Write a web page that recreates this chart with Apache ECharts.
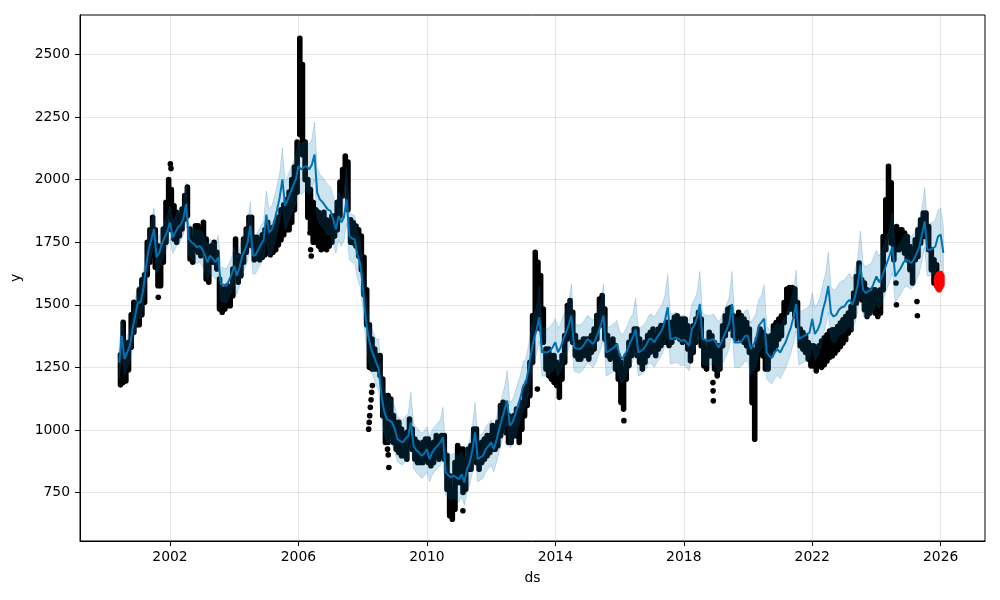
<!DOCTYPE html>
<html><head><meta charset="utf-8">
<script src="https://cdn.jsdelivr.net/npm/echarts@6/dist/echarts.min.js"></script>
<style>html,body{margin:0;padding:0;background:#fff}#c{width:1000px;height:600px}</style>
</head><body><div id="c"></div>
<script>
// ---- tick labels ----
const xTicks = [2002, 2006, 2010, 2014, 2018, 2022, 2026];
const yTicks = [750, 1000, 1250, 1500, 1750, 2000, 2250, 2500];

// ---- forecast (monthly, first value = 2000-06) ----
const fcstStart = '2000-06';
const yhat = [
1269,1376,1283,1310,1336,1403,1456,
1510,1509,1560,1650,1720,1760,1803,1690,1709,1743,1770,1795,
1829,1769,1790,1810,1820,1843,1903,1763,1750,1743,1729,1736,
1723,1700,1669,1696,1683,1670,1690,1583,1580,1576,1596,1620,
1656,1616,1650,1696,1720,1749,1816,1696,1700,1722,1740,1760,
1860,1789,1800,1835,1880,1930,2001,1895,1920,1948,1975,2001,
2054,2041,2050,2054,2041,2060,2101,1948,1921,1910,1895,1880,
1875,1840,1802,1855,1829,1850,1921,1775,1765,1762,1700,1669,
1577,1460,1380,1330,1300,1270,1245,1140,1075,1043,1037,1030,
1003,963,955,950,965,975,1030,937,920,910,897,905,
923,883,910,925,937,950,970,830,820,810,817,810,
803,823,790,843,870,920,990,883,890,897,923,935,
950,923,960,1003,1043,1080,1117,1017,1030,1060,1097,1130,
1177,1190,1243,1310,1363,1400,1450,1310,1310,1310,1317,1330,
1350,1310,1330,1363,1390,1420,1457,1330,1325,1323,1330,1345,
1363,1355,1343,1360,1390,1420,1457,1310,1315,1323,1330,1343,
1300,1283,1300,1323,1350,1370,1403,1310,1315,1323,1340,1363,
1363,1350,1370,1385,1403,1440,1490,1363,1365,1370,1365,1355,
1360,1350,1336,1403,1420,1450,1503,1363,1360,1356,1358,1363,
1350,1329,1350,1376,1400,1429,1503,1349,1349,1349,1360,1376,
1376,1323,1340,1363,1416,1430,1445,1309,1295,1289,1310,1323,
1309,1330,1349,1380,1409,1450,1503,1363,1370,1376,1383,1389,
1443,1383,1400,1427,1480,1520,1575,1467,1453,1460,1480,1490,
1493,1510,1520,1500,1533,1580,1660,1560,1547,1555,1560,1587,
1613,1590,1610,1640,1670,1700,1733,1613,1630,1645,1667,1680,
1675,1667,1680,1705,1730,1780,1833,1720,1720,1725,1733,1773,
1780,1707
];
const yhatUpper = [
1334,1441,1348,1375,1401,1468,1521,
1575,1574,1625,1715,1785,1825,1888,1755,1774,1808,1835,1860,
1894,1834,1855,1875,1885,1908,1988,1828,1815,1808,1794,1801,
1791,1768,1737,1764,1751,1738,1778,1651,1648,1644,1664,1688,
1731,1691,1725,1771,1795,1824,1911,1771,1775,1797,1815,1835,
1955,1884,1895,1930,1975,2025,2126,1990,2015,2043,2070,2096,
2154,2141,2150,2154,2141,2160,2231,2048,2021,2010,1995,1980,
1970,1935,1897,1950,1924,1945,2046,1870,1860,1857,1795,1764,
1667,1550,1470,1420,1390,1360,1365,1230,1165,1133,1127,1120,
1093,1053,1045,1040,1055,1065,1150,1027,1010,1000,987,995,
1013,973,1000,1015,1027,1040,1090,920,910,900,907,900,
893,913,880,933,960,1010,1110,973,980,987,1013,1025,
1040,1013,1050,1093,1133,1170,1237,1107,1120,1150,1187,1220,
1272,1285,1338,1405,1458,1495,1575,1405,1405,1405,1412,1425,
1445,1405,1425,1458,1485,1515,1582,1425,1420,1418,1425,1440,
1458,1450,1438,1455,1485,1515,1582,1405,1410,1418,1425,1438,
1395,1378,1395,1418,1445,1465,1528,1405,1410,1418,1435,1458,
1463,1450,1470,1485,1503,1540,1620,1463,1465,1470,1465,1455,
1460,1450,1436,1503,1520,1550,1633,1463,1460,1456,1458,1463,
1450,1429,1450,1476,1500,1529,1633,1449,1449,1449,1460,1476,
1481,1428,1445,1468,1521,1535,1580,1414,1400,1394,1415,1428,
1414,1435,1454,1485,1514,1555,1638,1468,1475,1481,1488,1494,
1548,1488,1505,1532,1585,1625,1710,1572,1558,1565,1585,1595,
1598,1615,1625,1605,1638,1685,1795,1665,1652,1660,1665,1692,
1718,1695,1715,1745,1775,1805,1868,1718,1735,1750,1772,1785,
1780,1772,1785,1810,1835,1885,1968,1825,1825,1830,1838,1878,
1885,1812
];
const yhatLower = [
1204,1311,1218,1245,1271,1338,1391,
1445,1444,1495,1585,1655,1695,1738,1625,1644,1678,1705,1730,
1764,1704,1725,1745,1755,1778,1838,1698,1685,1678,1664,1671,
1655,1632,1601,1628,1615,1602,1622,1515,1512,1508,1528,1552,
1581,1541,1575,1621,1645,1674,1741,1621,1625,1647,1665,1685,
1765,1694,1705,1740,1785,1835,1906,1800,1825,1853,1880,1906,
1954,1941,1950,1954,1941,1960,2001,1848,1821,1810,1795,1780,
1780,1745,1707,1760,1734,1755,1826,1680,1670,1667,1605,1574,
1487,1370,1290,1240,1210,1180,1155,1050,985,953,947,940,
913,873,865,860,875,885,940,847,830,820,807,815,
833,793,820,835,847,860,880,740,730,720,727,720,
713,733,700,753,780,830,900,793,800,807,833,845,
860,833,870,913,953,990,1027,927,940,970,1007,1040,
1082,1095,1148,1215,1268,1305,1355,1215,1215,1215,1222,1235,
1255,1215,1235,1268,1295,1325,1362,1235,1230,1228,1235,1250,
1268,1260,1248,1265,1295,1325,1362,1215,1220,1228,1235,1248,
1205,1188,1205,1228,1255,1275,1308,1215,1220,1228,1245,1268,
1263,1250,1270,1285,1303,1340,1390,1263,1265,1270,1265,1255,
1260,1250,1236,1303,1320,1350,1403,1263,1260,1256,1258,1263,
1250,1229,1250,1276,1300,1329,1403,1249,1249,1249,1260,1276,
1271,1218,1235,1258,1311,1325,1340,1204,1190,1184,1205,1218,
1204,1225,1244,1275,1304,1345,1398,1258,1265,1271,1278,1284,
1338,1278,1295,1322,1375,1415,1470,1362,1348,1355,1375,1385,
1388,1405,1415,1395,1428,1475,1555,1455,1442,1450,1455,1482,
1508,1485,1505,1535,1565,1595,1628,1508,1525,1540,1562,1575,
1570,1562,1575,1600,1625,1675,1728,1615,1615,1620,1628,1668,
1675,1602
];

// ---- observed points: monthly low / high of the daily dots (first = 2000-06) ----
const obsStart = '2000-06';
const obsLow = [
1180,1190,1195,1240,1330,1390,1420,
1420,1460,1510,1620,1670,1700,1650,1576,1576,1670,1750,1855,
1800,1763,1750,1776,1803,1843,1856,1683,1670,1723,1710,1696,
1723,1603,1590,1670,1670,1643,1483,1470,1483,1496,1496,1536,
1643,1590,1616,1670,1710,1776,1736,1680,1690,1680,1690,1700,
1710,1700,1710,1720,1740,1760,1780,1800,1800,1830,1880,1950,
2180,2100,2000,1850,1800,1750,1750,1735,1720,1750,1720,1735,
1750,1775,1800,1855,1935,1990,1880,1750,1748,1735,1695,1640,
1540,1420,1250,1243,1243,1243,1217,1057,950,950,977,950,
923,910,897,897,883,937,923,883,870,870,870,883,
870,857,870,897,883,897,883,763,657,643,683,790,
790,750,763,843,843,897,870,843,870,883,897,910,
923,923,937,977,1003,990,950,950,977,977,950,1003,
1057,1097,1137,1270,1403,1430,1403,1350,1243,1217,1203,1190,
1177,1130,1203,1270,1363,1403,1350,1297,1283,1283,1297,1297,
1283,1310,1323,1363,1417,1430,1363,1297,1283,1297,1243,1203,
1110,1083,1203,1257,1297,1323,1297,1270,1243,1270,1297,1310,
1323,1297,1323,1337,1350,1350,1337,1350,1370,1376,1363,1350,
1376,1323,1276,1309,1350,1390,1336,1256,1243,1296,1296,1243,
1216,1243,1336,1376,1403,1416,1376,1363,1376,1363,1350,1336,
1309,1109,963,1243,1309,1296,1243,1243,1296,1323,1336,1363,
1376,1429,1469,1483,1483,1456,1416,1336,1323,1309,1283,1256,
1256,1236,1256,1250,1260,1275,1290,1295,1307,1320,1333,1347,
1360,1387,1400,1453,1507,1560,1520,1480,1453,1467,1480,1467,
1453,1467,1560,1720,1773,1747,1680,1720,1720,1733,1707,1680,
1640,1587,1680,1693,1747,1773,1773,1720,1640,1587,1600
];
const obsHigh = [
1300,1430,1300,1350,1460,1510,1500,
1560,1600,1620,1750,1800,1850,1800,1736,1696,1803,1910,2000,
1960,1896,1870,1856,1883,1936,1970,1803,1763,1816,1816,1803,
1830,1763,1700,1736,1750,1710,1603,1563,1563,1576,1563,1643,
1763,1696,1670,1763,1803,1850,1850,1770,1770,1760,1780,1800,
1830,1800,1810,1830,1850,1880,1900,1920,1950,2000,2050,2150,
2565,2460,2150,2000,1960,1910,1880,1870,1855,1870,1840,1830,
1855,1855,1910,1990,2040,2094,2070,1840,1828,1815,1800,1775,
1690,1560,1420,1363,1323,1297,1297,1203,1137,1137,1123,1057,
1030,1030,1003,977,990,1043,1003,963,950,937,950,963,
963,937,950,977,950,977,977,897,817,763,870,937,
923,923,883,923,937,1003,1003,937,950,963,977,977,
1017,1003,1030,1097,1110,1097,1057,1030,1057,1083,1057,1110,
1163,1190,1270,1457,1710,1670,1617,1483,1323,1323,1297,1297,
1270,1257,1297,1377,1497,1517,1470,1377,1350,1350,1363,1363,
1363,1377,1403,1457,1523,1537,1483,1377,1350,1363,1337,1297,
1270,1243,1297,1350,1377,1403,1403,1363,1323,1350,1377,1390,
1403,1377,1403,1417,1417,1430,1417,1430,1450,1456,1443,1443,
1443,1416,1390,1416,1443,1470,1443,1349,1323,1390,1376,1349,
1336,1336,1416,1456,1483,1489,1456,1443,1470,1456,1443,1429,
1403,1323,1309,1363,1403,1390,1376,1336,1376,1416,1429,1443,
1456,1509,1563,1569,1569,1563,1509,1403,1389,1376,1349,1336,
1336,1323,1336,1355,1368,1380,1395,1400,1400,1413,1427,1440,
1453,1467,1493,1547,1613,1667,1600,1587,1560,1547,1560,1560,
1547,1560,1773,1920,2053,1987,1800,1813,1800,1800,1787,1773,
1733,1720,1760,1800,1840,1867,1867,1813,1720,1680,1660
];

// isolated observed points
const outlierDates = ['2001-08-20','2002-01-05','2002-01-12','2006-05-10','2006-05-18','2006-05-25',
  '2008-03-08','2008-03-14','2008-03-20','2008-03-27','2008-04-05','2008-04-12','2008-04-20',
  '2008-10-10','2008-10-18','2008-10-25','2011-02-15','2013-06-10','2016-02-20',
  '2018-11-28','2018-11-30','2018-12-02','2024-08-10','2024-08-15','2025-04-05','2025-04-10'];
const outlierValues = [1530,2063,2045,1788,1720,1695,
  1003,1030,1057,1090,1120,1150,1177,
  923,900,850,677,1163,1037,
  1189,1156,1116,1587,1500,1513,1456];

// recent points (red)
const redDates = ['2025-11-15','2025-12-01','2025-12-15','2026-01-01','2026-01-15'];
const redLow = [1575,1565,1560,1570,1580];
const redHigh = [1610,1620,1625,1625,1615];

// ---- helpers ----
function monthX(start, i) { const p = start.split('-').map(Number); return p[0] + (p[1] - 1 + i) / 12; }
function toYear(s) { const p = s.split('-').map(Number); return p[0] + (p[1] - 1 + (p[2] - 1) / 30.4) / 12; }

const lineData = yhat.map((v, i) => [monthX(fcstStart, i), v]);
const upperPts = yhatUpper.map((v, i) => [monthX(fcstStart, i), v]);
const lowerPts = yhatLower.map((v, i) => [monthX(fcstStart, i), v]);
const obsData = obsLow.map((lo, i) => [monthX(obsStart, i) + 0.5 / 12, lo, obsHigh[i]]);
const outlierData = outlierDates.map((d, i) => [toYear(d), outlierValues[i]]);
const redData = redDates.map((d, i) => [toYear(d), redLow[i], redHigh[i]]);

const FONT = 'DejaVu Sans';
const R = 2.8;
function capsule(color) {
  return function (params, api) {
    const top = api.coord([api.value(0), api.value(2)]);
    const bot = api.coord([api.value(0), api.value(1)]);
    return { type: 'rect', shape: { x: top[0] - R, y: top[1] - R, width: 2 * R, height: bot[1] - top[1] + 2 * R, r: R },
      style: { fill: color } };
  };
}

const chart = echarts.init(document.getElementById('c'));
chart.setOption({
  animation: false,
  backgroundColor: '#fff',
  grid: { left: 80, right: 15, top: 15, bottom: 59, show: true, borderColor: '#000', borderWidth: 1, containLabel: false },
  xAxis: {
    type: 'value', min: 1999.197, max: 2027.38,
    axisLine: { show: true, onZero: false, lineStyle: { color: '#000', width: 1 } },
    axisTick: { show: true, length: 5, customValues: xTicks, lineStyle: { color: '#000', width: 1 } },
    axisLabel: { customValues: xTicks, formatter: v => String(v), color: '#000', fontFamily: FONT, fontSize: 13.9, margin: 9 },
    splitLine: { show: true, lineStyle: { color: 'rgba(128,128,128,0.2)', width: 1 } },
    name: 'ds', nameLocation: 'middle', nameGap: 30,
    nameTextStyle: { color: '#000', fontFamily: FONT, fontSize: 13.9 }
  },
  yAxis: {
    type: 'value', min: 556, max: 2658,
    axisLine: { show: true, onZero: false, lineStyle: { color: '#000', width: 1 } },
    axisTick: { show: true, length: 5, customValues: yTicks, lineStyle: { color: '#000', width: 1 } },
    axisLabel: { customValues: yTicks, formatter: v => String(v), color: '#000', fontFamily: FONT, fontSize: 13.9, margin: 10 },
    splitLine: { show: true, lineStyle: { color: 'rgba(128,128,128,0.2)', width: 1 } },
    name: 'y', nameLocation: 'middle', nameGap: 53,
    nameTextStyle: { color: '#000', fontFamily: FONT, fontSize: 13.9 }
  },
  series: [
    { type: 'custom', name: 'obs', z: 2, clip: true, data: obsData, encode: { x: 0, y: [1, 2] }, renderItem: capsule('#000') },
    { type: 'scatter', name: 'obsPts', z: 2, data: outlierData, symbolSize: 5.6, itemStyle: { color: '#000', opacity: 1 } },
    { type: 'line', name: 'yhat', z: 3, data: lineData, showSymbol: false, lineStyle: { color: '#0072B2', width: 2 } },
    { type: 'custom', name: 'band', z: 4, clip: true, data: [[2010, 1500]], encode: { x: 0, y: 1 },
      renderItem: function (params, api) {
        const pts = upperPts.map(p => api.coord(p)).concat(lowerPts.slice().reverse().map(p => api.coord(p)));
        return { type: 'polygon', shape: { points: pts },
          style: { fill: 'rgba(0,114,178,0.2)', stroke: 'rgba(0,114,178,0.2)', lineWidth: 1 } };
      } },
    { type: 'custom', name: 'recent', z: 5, clip: true, data: redData, encode: { x: 0, y: [1, 2] }, renderItem: capsule('#ff0000') }
  ]
});
</script>
</body></html>
